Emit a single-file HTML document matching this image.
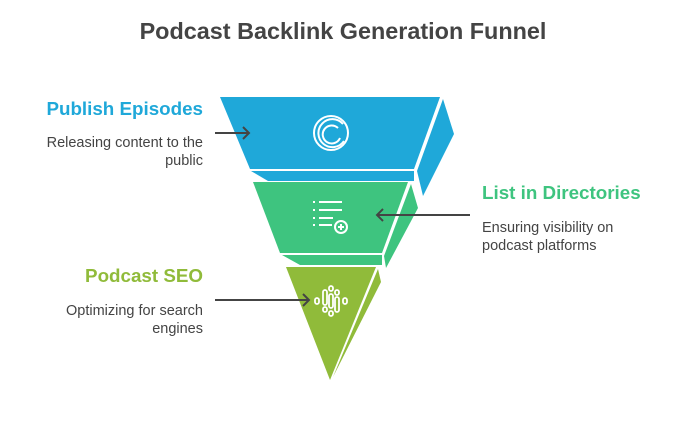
<!DOCTYPE html>
<html><head><meta charset="utf-8"><style>
body{margin:0;background:#fff;width:687px;height:423px;overflow:hidden;font-family:"Liberation Sans",sans-serif}
</style></head><body>
<svg width="687" height="423" viewBox="0 0 687 423" xmlns="http://www.w3.org/2000/svg" font-family="Liberation Sans, sans-serif">
<text x="343" y="39" text-anchor="middle" font-size="23.4" font-weight="bold" fill="#444">Podcast Backlink Generation Funnel</text>
<!-- blue -->
<polygon points="220,97 440,97 414,169 250,169" fill="#1fa8d9"/>
<polygon points="443,99 454,134 423,196 417,171" fill="#1fa8d9"/>
<polygon points="251,171 414,171 414,181 268,181" fill="#1fa8d9"/>
<!-- green -->
<polygon points="253,182 408,182 382,253 280,253" fill="#3ec47f"/>
<polygon points="411,184 418,208 386,268 384,256" fill="#3ec47f"/>
<polygon points="282,255 382,255 382,265 300,265" fill="#3ec47f"/>
<!-- olive -->
<polygon points="286,267 376,267 330,380" fill="#90bb3a"/>
<polygon points="378,269 381,282 333,377" fill="#90bb3a"/>
<!-- icons -->
<g fill="none" stroke="#fff" stroke-width="2">
<circle cx="331" cy="133" r="17"/>
<path d="M338,128 A9,9 0 1 0 340,138"/>
<path d="M343,124 A14,14 0 1 0 344,141"/>
</g>
<g stroke="#fff" stroke-width="2" fill="none">
<line x1="313" y1="202" x2="315" y2="202"/><line x1="319" y1="202" x2="342" y2="202"/>
<line x1="313" y1="210" x2="315" y2="210"/><line x1="319" y1="210" x2="342" y2="210"/>
<line x1="313" y1="218" x2="315" y2="218"/><line x1="319" y1="218" x2="333" y2="218"/>
<line x1="313" y1="225" x2="315" y2="225"/><line x1="319" y1="225" x2="332" y2="225"/>
<circle cx="341" cy="227" r="6"/><line x1="338" y1="227" x2="344" y2="227"/><line x1="341" y1="224" x2="341" y2="230"/>
</g>
<g fill="none" stroke="#fff" stroke-width="1.8">
<rect x="315" y="298" width="4" height="6" rx="2"/>
<rect x="323" y="290" width="4" height="15" rx="2"/><rect x="323" y="307" width="4" height="5" rx="2"/>
<rect x="329" y="286" width="4" height="5" rx="2"/><rect x="329" y="294" width="4" height="14" rx="2"/><rect x="329" y="311" width="4" height="5" rx="2"/>
<rect x="335" y="290" width="4" height="5" rx="2"/><rect x="335" y="297" width="4" height="15" rx="2"/>
<rect x="343" y="298" width="4" height="6" rx="2"/>
</g>
<!-- arrows -->
<g stroke="#444" stroke-width="2" fill="none">
<line x1="215" y1="133" x2="249" y2="133"/><polyline points="243,127 249,133 243,139"/>
<line x1="470" y1="215" x2="377" y2="215"/><polyline points="383,209 377,215 383,221"/>
<line x1="215" y1="300" x2="309" y2="300"/><polyline points="303,294 309,300 303,306"/>
</g>
<!-- labels -->
<text x="203" y="115" text-anchor="end" font-size="18.8" font-weight="bold" fill="#1fa8d9">Publish Episodes</text>
<text x="203" y="147" text-anchor="end" font-size="14.5" fill="#444">Releasing content to the</text>
<text x="203" y="165" text-anchor="end" font-size="14.5" fill="#444">public</text>
<text x="482" y="199" font-size="18.8" font-weight="bold" fill="#3ec47f">List in Directories</text>
<text x="482" y="232" font-size="14.5" fill="#444">Ensuring visibility on</text>
<text x="482" y="250" font-size="14.5" fill="#444">podcast platforms</text>
<text x="203" y="282" text-anchor="end" font-size="18.8" font-weight="bold" fill="#90bb3a">Podcast SEO</text>
<text x="203" y="315" text-anchor="end" font-size="14.5" fill="#444">Optimizing for search</text>
<text x="203" y="333" text-anchor="end" font-size="14.5" fill="#444">engines</text>
</svg>
</body></html>
